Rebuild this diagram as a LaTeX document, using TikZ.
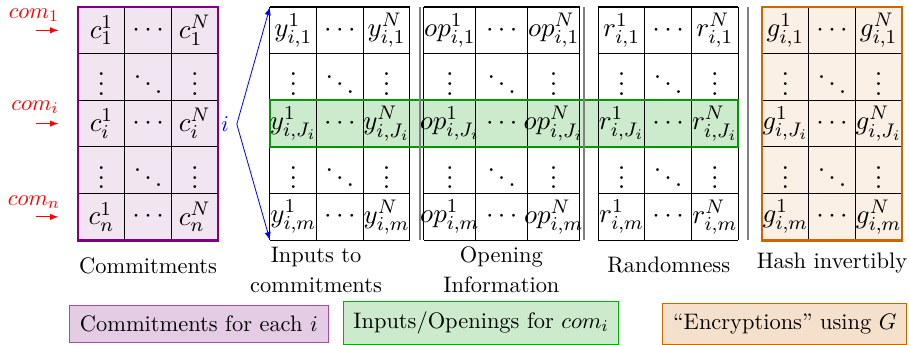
\documentclass[tikz,border=0pt,11pt]{standalone}
\usepackage{tikz}

\begin{document}
\begin{tikzpicture}[
    cell/.style={inner sep=0pt, scale=1.2},
    sepline/.style={gray, line width=1pt},
    legendbox/.style={draw, inner sep=5pt}]

    \useasboundingbox (0,0) rectangle (15.59,-5.90);

    % backgrounds
    \fill[violet!10] (1.34,-0.12) rectangle (3.74,-4.12);
    \fill[orange!80!black!10] (13.07,-0.12) rectangle (15.47,-4.12);
    \fill[green!60!black!20] (4.63,-1.72) rectangle (12.66,-2.52);

    % grids
    \foreach \xa/\w in {1.34/0.8, 4.63/0.8, 7.27/0.89, 10.26/0.8, 13.07/0.8}
    {
      \foreach \k in {0,...,3}
        \draw[line width=0.5pt] (\xa+\k*\w,-0.12) -- ++(0,-4);
      \foreach \k in {0,...,5}
        \draw[line width=0.5pt] (\xa,-0.12-0.8*\k) -- ++(3*\w,0);
    }

    % commitments
    \foreach \r/\s in {1/1, 3/i, 5/n}
    {
      \node[cell] (c-\r-1) at (1.74,0.28-0.8*\r) {$c^1_{\s}$};
      \node[cell] (c-\r-2) at (2.54,0.28-0.8*\r) {$\cdots$};
      \node[cell] (c-\r-3) at (3.34,0.28-0.8*\r) {$c^N_{\s}$};
    }
    \foreach \r in {2,4}
    {
      \node[cell] (c-\r-1) at (1.74,0.28-0.8*\r) {$\vdots$};
      \node[cell] (c-\r-2) at (2.54,0.28-0.8*\r) {$\ddots$};
      \node[cell] (c-\r-3) at (3.34,0.28-0.8*\r) {$\vdots$};
    }

    % inputs, openings, randomness, hashes
    \foreach \b/\xa/\w in {y/4.63/0.8, op/7.27/0.89, r/10.26/0.8, g/13.07/0.8}
    {
      \foreach \r/\s in {1/{i,1}, 3/{i,J_i}, 5/{i,m}}
      {
        \node[cell] (\b-\r-1) at (\xa+0.5*\w,0.28-0.8*\r) {$\b^1_{\s}$};
        \node[cell] (\b-\r-2) at (\xa+1.5*\w,0.28-0.8*\r) {$\cdots$};
        \node[cell] (\b-\r-3) at (\xa+2.5*\w,0.28-0.8*\r) {$\b^N_{\s}$};
      }
      \foreach \r in {2,4}
      {
        \node[cell] (\b-\r-1) at (\xa+0.5*\w,0.28-0.8*\r) {$\vdots$};
        \node[cell] (\b-\r-2) at (\xa+1.5*\w,0.28-0.8*\r) {$\ddots$};
        \node[cell] (\b-\r-3) at (\xa+2.5*\w,0.28-0.8*\r) {$\vdots$};
      }
    }

    % highlighted row
    \draw[green!60!black, line width=1pt] (4.63,-1.72) rectangle (12.66,-2.52);

    % separators
    \foreach \x in {7.20, 10.02, 12.83}
      \draw[sepline] (\x,-0.12) -- (\x,-4.12);

    % outer borders
    \draw[violet, line width=1.3pt] (1.34,-0.12) rectangle (3.74,-4.12);
    \draw[orange!80!black, line width=1.3pt] (13.07,-0.12) rectangle (15.47,-4.12);

    % commitment arrows
    \node[red] (com1) at (0.58,-0.26) {$com_1$};
    \node[red] (comi) at (0.60,-1.84) {$com_i$};
    \node[red] (comn) at (0.58,-3.47) {$com_n$};
    \coordinate (a1) at (0.62,-0.52);  \coordinate (b1) at (1.00,-0.52);
    \coordinate (ai) at (0.62,-2.12);  \coordinate (bi) at (1.00,-2.12);
    \coordinate (an) at (0.62,-3.72);  \coordinate (bn) at (1.00,-3.72);
    \draw[red, -latex] (a1) -- (b1);
    \draw[red, -latex] (ai) -- (bi);
    \draw[red, -latex] (an) -- (bn);

    % index i
    \node[blue] (idx) at (3.86,-2.13) {$i$};
    \coordinate (ytop) at (4.63,-0.12);
    \coordinate (ybot) at (4.63,-4.12);
    \draw[blue, -latex] (idx.east) -- (ytop);
    \draw[blue, -latex] (idx.east) -- (ybot);

    % captions
    \node (lcom) at (2.54,-4.56) {Commitments};
    \node[align=center] (linp) at (5.42,-4.63) {Inputs to\\[1pt] commitments};
    \node[align=center] (lop) at (8.60,-4.63) {Opening\\[1pt] Information};
    \node (lrand) at (11.47,-4.55) {Randomness};
    \node (lhash) at (14.27,-4.51) {Hash invertibly};

    % legend
    \node[legendbox, draw=violet!70, fill=violet!20] (kcom) at (3.41,-5.55) {Commitments for each $i$};
    \node[legendbox, draw=green!70!black, fill=green!60!black!20] (kinp) at (8.25,-5.54) {Inputs/Openings for $com_i$};
    \node[legendbox, draw=orange!80!black, fill=orange!80!black!20] (kenc) at (13.46,-5.55) {``Encryptions'' using $G$};
\end{tikzpicture}
\end{document}
